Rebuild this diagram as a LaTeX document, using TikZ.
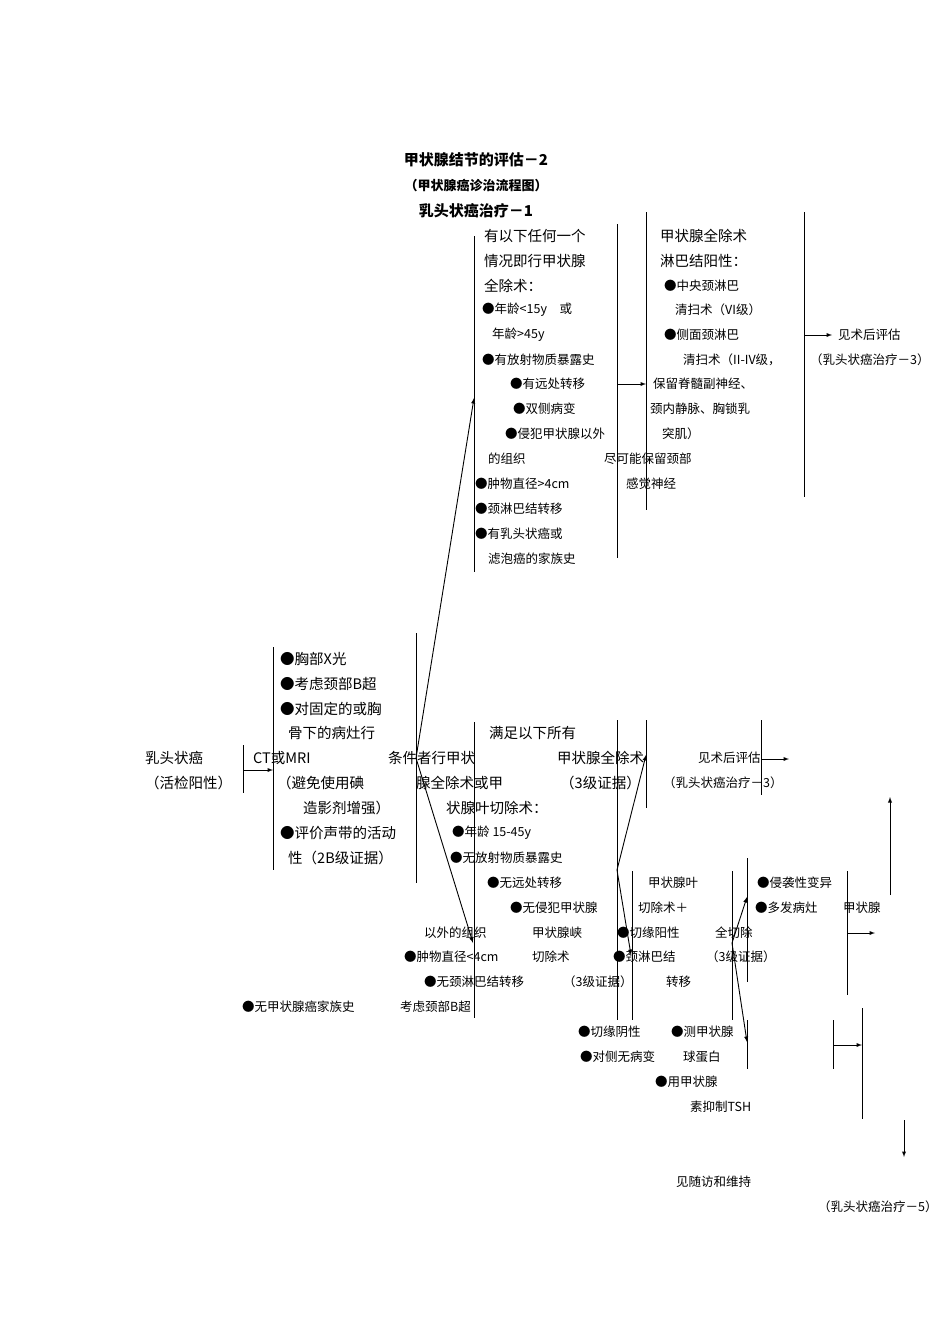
\documentclass[tikz,border=0pt]{standalone}
\usepackage{fontspec}
\setmainfont{Noto Sans CJK SC}
\tikzset{
 L/.style={anchor=west,inner sep=0pt,font=\fontsize{14.5}{16}\selectfont},
 S/.style={anchor=west,inner sep=0pt,font=\fontsize{12.5}{14}\selectfont},
 B/.style={anchor=center,inner sep=0pt,font=\bfseries\fontsize{15}{17}\selectfont},
 ln/.style={line width=0.9pt},
 ar/.style={line width=0.9pt,-latex}
}
\begin{document}
\begin{tikzpicture}[x=1pt,y=-1pt]
\useasboundingbox (0,0) rectangle (950,1344);
% titles
\node[B] (h1) at (476,160) {甲状腺结节的评估－2};
\node[B,font=\bfseries\fontsize{13}{15}\selectfont] (h2) at (476,186) {（甲状腺癌诊治流程图）};
\node[B] (h3) at (476,211) {乳头状癌治疗－1};
% upper box
\node[L] (u1) at (484,236) {有以下任何一个};
\node[L] (u2) at (484,261) {情况即行甲状腺};
\node[L] (u3) at (484,286) {全除术：};
\node[S] (u4) at (482,310) {●年龄<15y\quad 或};
\node[S] (u5) at (492,335) {年龄>45y};
\node[S] (u6) at (482,360) {●有放射物质暴露史};
\node[S] (u7) at (510,384) {●有远处转移};
\node[S] (u8) at (513,409) {●双侧病变};
\node[S] (u9) at (505,434) {●侵犯甲状腺以外};
\node[S] (u10) at (488,459) {的组织};
\node[S] (u11) at (604,459) {尽可能保留颈部};
\node[S] (u12) at (475,484) {●肿物直径>4cm};
\node[S] (u13) at (626,484) {感觉神经};
\node[S] (u14) at (475,509) {●颈淋巴结转移};
\node[S] (u15) at (475,534) {●有乳头状癌或};
\node[S] (u16) at (488,559) {滤泡癌的家族史};
\node[L] (r1) at (660,236) {甲状腺全除术};
\node[L] (r2) at (660,261) {淋巴结阳性：};
\node[S] (r3) at (664,286) {●中央颈淋巴};
\node[S] (r4) at (675,310) {清扫术（VI级）};
\node[S] (r5) at (664,335) {●侧面颈淋巴};
\node[S] (r6) at (683,360) {清扫术（II-IV级，};
\node[S] (r7) at (653,384) {保留脊髓副神经、};
\node[S] (r8) at (650,409) {颈内静脉、胸锁乳};
\node[S] (r9) at (662,434) {突肌）};
\node[S] (r10) at (838,335) {见术后评估};
\node[S] (r11) at (810,360) {（乳头状癌治疗－3）};
% left
\node[L] (a1) at (145,758) {乳头状癌};
\node[L] (a2) at (145,783) {（活检阳性）};
\node[L] (b1) at (280,659) {●胸部X光};
\node[L] (b2) at (280,684) {●考虑颈部B超};
\node[L] (b3) at (280,709) {●对固定的或胸};
\node[L] (b4) at (288,733) {骨下的病灶行};
\node[L] (b5) at (253,758) {CT或MRI};
\node[L] (b6) at (277,783) {（避免使用碘};
\node[L] (b7) at (303,808) {造影剂增强）};
\node[L] (b8) at (280,833) {●评价声带的活动};
\node[L] (b9) at (288,858) {性（2B级证据）};
% middle lower
\node[L] (c1) at (388,758) {条件者行甲状};
\node[L] (c2) at (416,783) {腺全除术或甲};
\node[L] (c3) at (446,808) {状腺叶切除术：};
\node[L] (c4) at (489,733) {满足以下所有};
\node[L] (c5) at (557,758) {甲状腺全除术};
\node[L] (c6) at (560,783) {（3级证据）};
\node[S] (c7) at (698,758) {见术后评估};
\node[S] (c8) at (663,783) {（乳头状癌治疗－3）};
\node[S] (d1) at (452,833) {●年龄 15-45y};
\node[S] (d2) at (450,858) {●无放射物质暴露史};
\node[S] (d3) at (487,883) {●无远处转移};
\node[S] (d4) at (510,908) {●无侵犯甲状腺};
\node[S] (d5) at (424,933) {以外的组织};
\node[S] (d6) at (532,933) {甲状腺峡};
\node[S] (d7) at (404,957) {●肿物直径<4cm};
\node[S] (d8) at (532,957) {切除术};
\node[S] (d9) at (424,982) {●无颈淋巴结转移};
\node[S] (d10) at (563,982) {（3级证据）};
\node[S] (d11) at (242,1007) {●无甲状腺癌家族史};
\node[S] (d12) at (400,1007) {考虑颈部B超};
\node[S] (e1) at (648,883) {甲状腺叶};
\node[S] (e2) at (638,908) {切除术＋};
\node[S] (e3) at (617,933) {●切缘阳性};
\node[S] (e4) at (613,957) {●颈淋巴结};
\node[S] (e5) at (666,982) {转移};
\node[S] (e6) at (715,933) {全切除};
\node[S] (e7) at (706,957) {（3级证据）};
\node[S] (e8) at (757,883) {●侵袭性变异};
\node[S] (e9) at (755,908) {●多发病灶};
\node[S] (e10) at (843,908) {甲状腺};
\node[S] (f1) at (578,1032) {●切缘阴性};
\node[S] (f2) at (671,1032) {●测甲状腺};
\node[S] (f3) at (580,1057) {●对侧无病变};
\node[S] (f4) at (683,1057) {球蛋白};
\node[S] (f5) at (655,1082) {●用甲状腺};
\node[S] (f6) at (690,1107) {素抑制TSH};
\node[S] (f7) at (676,1182) {见随访和维持};
\node[S] (f8) at (818,1207) {（乳头状癌治疗－5）};
% vertical bars
\foreach \x/\ya/\yb in {243/745/793, 273/647/870, 416/633/883, 474/236/572, 617/224/558,
  646/212/510, 804/212/497, 474/722/1018, 617/720/1020, 646/720/808, 761/720/795,
  632/871/1020, 732/871/1020, 747/858/982, 747/1020/1069, 847/871/995, 833/1020/1069, 862/1008/1119}
  \draw[ln] (\x,\ya) -- (\x,\yb);
% arrows
\draw[ar] (243,770) -- (273,770);
\draw[ar] (617,384) -- (646,384);
\draw[ar] (804,335) -- (832,335);
\draw[ar] (761,759) -- (789,759);
\draw[ar] (847,933) -- (875,933);
\draw[ar] (833,1045) -- (862,1045);
\draw[ar] (890,895) -- (890,797);
\draw[ar] (904,1120) -- (904,1157);
\draw[ar] (416,758) -- (474,398);
\draw[ar] (416,758) -- (473,943);
\draw[ar] (617,870) -- (646,755);
\draw[ar] (617,870) -- (631,955);
\draw[ar] (732,943) -- (747,897);
\draw[ar] (732,943) -- (747,1042);
\end{tikzpicture}
\end{document}
